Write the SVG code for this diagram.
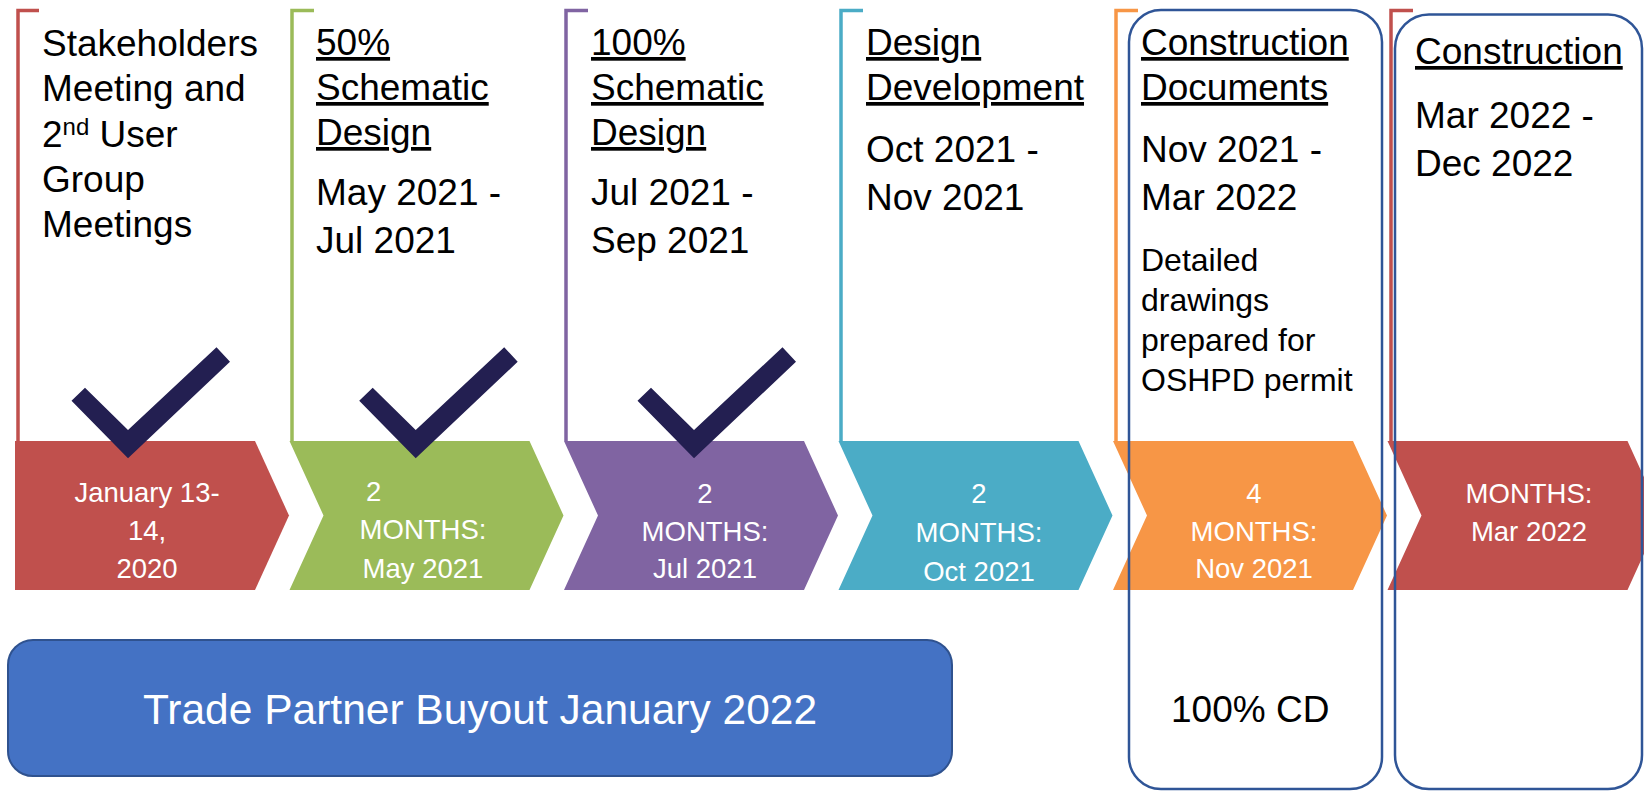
<svg xmlns="http://www.w3.org/2000/svg" width="1644" height="794" viewBox="0 0 1644 794">
<style>
.t{font-family:"Liberation Sans",Arial,sans-serif;fill:#000;font-size:37px}
.u{text-decoration:underline}
.s{font-size:32px}
.w{font-family:"Liberation Sans",Arial,sans-serif;fill:#fff;font-size:27.5px;text-anchor:middle}
.br{fill:none;stroke-width:3.5}
.ck{fill:#231F51}
.frame{fill:none;stroke:#2F5597;stroke-width:2.5}
</style>
<defs>
<polygon id="check" points="-56.5,400.7 -43,387.7 0,430 88.5,347.3 102,361.7 0,458.3"/>
</defs>
<rect width="1644" height="794" fill="#fff"/>

<g id="connectors"></g>

<g id="step1">
<path class="br" stroke="#C0504D" d="M18,441 V10.5 H39"/>
<path fill="#C0504D" d="M15,441 H255 L289,515.5 L255,590 H15 Z"/>
<use href="#check" class="ck" x="128"/>
<text class="t" x="42" y="56">Stakeholders</text>
<text class="t" x="42" y="101">Meeting and</text>
<text class="t" x="42" y="147">2<tspan font-size="24" dy="-12">nd</tspan><tspan dy="12"> User</tspan></text>
<text class="t" x="42" y="192">Group</text>
<text class="t" x="42" y="237">Meetings</text>
<text class="w" x="147" y="502">January 13-</text>
<text class="w" x="147" y="540">14,</text>
<text class="w" x="147" y="578">2020</text>
</g>

<g id="step2">
<path class="br" stroke="#9BBB59" d="M292,441 V10.5 H314"/>
<path fill="#9BBB59" d="M289.5,441 H529.5 L563.5,515.5 L529.5,590 H289.5 L323.5,515.5 Z"/>
<use href="#check" class="ck" x="415.7"/>
<text class="t u" x="316" y="55">50%</text>
<text class="t u" x="316" y="100">Schematic</text>
<text class="t u" x="316" y="145">Design</text>
<text class="t" x="316" y="205">May 2021 -</text>
<text class="t" x="316" y="253">Jul 2021</text>
<text class="w" x="366" y="501" style="text-anchor:start">2</text>
<text class="w" x="423" y="539">MONTHS:</text>
<text class="w" x="423" y="578">May 2021</text>
</g>

<g id="step3">
<path class="br" stroke="#8064A2" d="M566,441 V10.5 H588"/>
<path fill="#8064A2" d="M564,441 H804 L838,515.5 L804,590 H564 L598,515.5 Z"/>
<use href="#check" class="ck" x="694"/>
<text class="t u" x="591" y="55">100%</text>
<text class="t u" x="591" y="100">Schematic</text>
<text class="t u" x="591" y="145">Design</text>
<text class="t" x="591" y="205">Jul 2021 -</text>
<text class="t" x="591" y="253">Sep 2021</text>
<text class="w" x="705" y="503">2</text>
<text class="w" x="705" y="541">MONTHS:</text>
<text class="w" x="705" y="578">Jul 2021</text>
</g>

<g id="step4">
<path class="br" stroke="#4BACC6" d="M841,441 V10.5 H863"/>
<path fill="#4BACC6" d="M838.5,441 H1078.5 L1112.5,515.5 L1078.5,590 H838.5 L872.5,515.5 Z"/>
<text class="t u" x="866" y="55">Design</text>
<text class="t u" x="866" y="100">Development</text>
<text class="t" x="866" y="162">Oct 2021 -</text>
<text class="t" x="866" y="210">Nov 2021</text>
<text class="w" x="979" y="503">2</text>
<text class="w" x="979" y="542">MONTHS:</text>
<text class="w" x="979" y="581">Oct 2021</text>
</g>

<g id="step5">
<path class="br" stroke="#F79646" d="M1116,441 V10.5 H1138"/>
<path fill="#F79646" d="M1113,441 H1353 L1387,515.5 L1353,590 H1113 L1147,515.5 Z"/>
<text class="t u" x="1141" y="55">Construction</text>
<text class="t u" x="1141" y="100">Documents</text>
<text class="t" x="1141" y="162">Nov 2021 -</text>
<text class="t" x="1141" y="210">Mar 2022</text>
<text class="t s" x="1141" y="271">Detailed</text>
<text class="t s" x="1141" y="311">drawings</text>
<text class="t s" x="1141" y="351">prepared for</text>
<text class="t s" x="1141" y="391">OSHPD permit</text>
<text class="w" x="1254" y="503">4</text>
<text class="w" x="1254" y="541">MONTHS:</text>
<text class="w" x="1254" y="578">Nov 2021</text>
<rect class="frame" x="1129" y="10" width="253" height="779" rx="32" ry="32"/>
<text class="t" x="1171" y="722" font-size="40">100% CD</text>
</g>

<g id="step6">
<path class="br" stroke="#C0504D" d="M1391,441 V10.5 H1413"/>
<path fill="#C0504D" d="M1387.5,441 H1627.5 L1661.5,515.5 L1627.5,590 H1387.5 L1421.5,515.5 Z"/>
<text class="t u" x="1415" y="64">Construction</text>
<text class="t" x="1415" y="128">Mar 2022 -</text>
<text class="t" x="1415" y="176">Dec 2022</text>
<text class="w" x="1529" y="503">MONTHS:</text>
<text class="w" x="1529" y="541">Mar 2022</text>
<rect class="frame" x="1395" y="14.5" width="247" height="774.5" rx="34" ry="34"/>
</g>

<g id="buyout">
<rect x="8" y="640" width="944" height="136" rx="25" ry="25" fill="#4472C4" stroke="#2F528F" stroke-width="2"/>
<text x="480" y="724" font-family="Liberation Sans, Arial, sans-serif" font-size="42.5" fill="#fff" text-anchor="middle">Trade Partner Buyout January 2022</text>
</g>
</svg>
